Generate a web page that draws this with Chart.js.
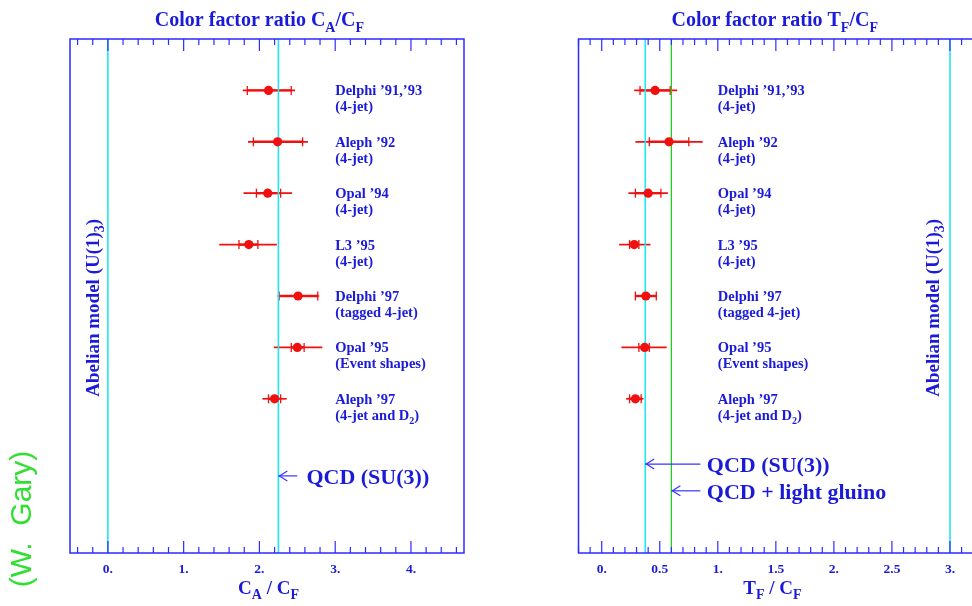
<!DOCTYPE html>
<html>
<head>
<meta charset="utf-8">
<script src="https://cdn.jsdelivr.net/npm/chart.js@4"></script>
<style>
html, body { margin: 0; padding: 0; background: #fff; overflow: hidden; width: 972px; height: 606px; }
#left { position: absolute; left: 0; top: 0; width: 500px; height: 606px; }
#right { position: absolute; left: 500px; top: 0; width: 480px; height: 606px; }
</style>
</head>
<body>
<canvas id="left" width="500" height="606"></canvas>
<canvas id="right" width="480" height="606"></canvas>
<script>
// measurements, top to bottom
const rows = [1, 2, 3, 4, 5, 6, 7];
const experiments = ['Delphi ’91,’93', 'Aleph ’92', 'Opal ’94', 'L3 ’95', 'Delphi ’97', 'Opal ’95', 'Aleph ’97'];
const methods = ['(4-jet)', '(4-jet)', '(4-jet)', '(4-jet)', '(tagged 4-jet)', '(Event shapes)', '(4-jet and D_2)'];

// C_A / C_F
const caValue    = [2.12, 2.24, 2.11, 1.86, 2.51, 2.50, 2.20];
const caStatLow  = [1.84, 1.92, 1.96, 1.73, 2.26, 2.42, 2.12];
const caStatHigh = [2.42, 2.57, 2.28, 1.98, 2.77, 2.59, 2.28];
const caTotLow   = [1.78, 1.85, 1.79, 1.47, 2.24, 2.19, 2.04];
const caTotHigh  = [2.47, 2.64, 2.43, 2.23, 2.79, 2.83, 2.36];
const caTicks = [0, 1, 2, 3, 4];
const caTickLabels = ['0.', '1.', '2.', '3.', '4.'];
const caRefLines = [0, 2.25];

// T_F / C_F
const tfValue    = [0.46, 0.58, 0.40, 0.28, 0.38, 0.37, 0.29];
const tfStatLow  = [0.33, 0.41, 0.29, 0.24, 0.29, 0.32, 0.24];
const tfStatHigh = [0.59, 0.75, 0.51, 0.32, 0.47, 0.41, 0.34];
const tfTotLow   = [0.28, 0.29, 0.23, 0.15, 0.29, 0.17, 0.21];
const tfTotHigh  = [0.65, 0.87, 0.57, 0.42, 0.47, 0.56, 0.36];
const tfTicks = [0, 0.5, 1, 1.5, 2, 2.5, 3];
const tfTickLabels = ['0.', '0.5', '1.', '1.5', '2.', '2.5', '3.'];
const tfRefLines = [0.375, 0.6, 3];

const RED = '#f01010';
const BLUE = '#1a1ad8';
const FRAME = '#2b2bff';
const CYAN = '#20e8f0';
const GREEN = '#20cc20';
const SERIF = '"Liberation Serif", "DejaVu Serif", serif';

// "C_A" -> [['C', false], ['A', true]]
function runs(s) {
  const out = [];
  let buf = '';
  for (let i = 0; i < s.length; i++) {
    if (s[i] === '_' && i + 1 < s.length) {
      if (buf) out.push([buf, false]);
      buf = '';
      out.push([s[i + 1], true]);
      i++;
    } else buf += s[i];
  }
  if (buf) out.push([buf, false]);
  return out;
}

function richText(ctx, s, x, y, size, align, color) {
  const parts = runs(s);
  const subSize = Math.round(size * 0.72);
  let w = 0;
  parts.forEach(([t, sub]) => {
    ctx.font = 'bold ' + (sub ? subSize : size) + 'px ' + SERIF;
    w += ctx.measureText(t).width;
  });
  let cx = align === 'center' ? x - w / 2 : x;
  ctx.fillStyle = color;
  ctx.textAlign = 'left';
  ctx.textBaseline = 'alphabetic';
  parts.forEach(([t, sub]) => {
    ctx.font = 'bold ' + (sub ? subSize : size) + 'px ' + SERIF;
    ctx.fillText(t, cx, sub ? y + size * 0.28 : y);
    cx += ctx.measureText(t).width;
  });
}

function seg(ctx, x0, y0, x1, y1) {
  ctx.beginPath(); ctx.moveTo(x0, y0); ctx.lineTo(x1, y1); ctx.stroke();
}

const decor = {
  id: 'decor',
  beforeDatasetsDraw(chart, args, o) {
    const { ctx } = chart;
    const xs = chart.scales.x, ys = chart.scales.y;
    ctx.save();
    ctx.strokeStyle = RED;
    o.value.forEach((v, i) => {
      const py = ys.getPixelForValue(rows[i]);
      const a = xs.getPixelForValue(o.totLow[i]), b = xs.getPixelForValue(o.totHigh[i]);
      const c = xs.getPixelForValue(o.statLow[i]), d = xs.getPixelForValue(o.statHigh[i]);
      ctx.lineWidth = 1.7; seg(ctx, a, py, b, py);
      ctx.lineWidth = 2.4; seg(ctx, c, py, d, py);
      ctx.lineWidth = 1.3;
      seg(ctx, c, py - 4.5, c, py + 4.5);
      seg(ctx, d, py - 4.5, d, py + 4.5);
    });
    ctx.restore();
  },
  afterDraw(chart, args, o) {
    const { ctx, chartArea: ca } = chart;
    const xs = chart.scales.x, ys = chart.scales.y;
    ctx.save();
    // frame
    ctx.strokeStyle = FRAME;
    ctx.lineWidth = 1.5;
    ctx.strokeRect(ca.left, ca.top, ca.right - ca.left, ca.bottom - ca.top);
    // inward ticks on top and bottom
    ctx.lineWidth = 1.2;
    const k0 = Math.ceil(xs.min / o.minor - 1e-6), k1 = Math.floor(xs.max / o.minor + 1e-6);
    for (let k = k0; k <= k1; k++) {
      const v = k * o.minor;
      const major = o.ticks.some(t => Math.abs(t - v) < 1e-6);
      const len = major ? 12 : 6;
      const px = xs.getPixelForValue(v);
      seg(ctx, px, ca.bottom, px, ca.bottom - len);
      seg(ctx, px, ca.top, px, ca.top + len);
    }
    // titles
    richText(ctx, o.title, xs.getPixelForValue(o.titleX), 26, 20, 'center', BLUE);
    richText(ctx, o.axisTitle, xs.getPixelForValue(o.axisTitleX), 594, 19, 'center', BLUE);
    // experiment labels
    experiments.forEach((name, i) => {
      const py = ys.getPixelForValue(rows[i]);
      const px = xs.getPixelForValue(o.labelX);
      richText(ctx, name, px, py + 5, 14.5, 'left', BLUE);
      richText(ctx, methods[i], px, py + 21, 14.5, 'left', BLUE);
    });
    // Abelian model label, rotated
    ctx.save();
    ctx.translate(xs.getPixelForValue(o.abelianX), ys.getPixelForValue(o.abelianY));
    ctx.rotate(-Math.PI / 2);
    richText(ctx, 'Abelian model (U(1)_3)', 0, 0, 19, 'center', BLUE);
    ctx.restore();
    // arrows to the theory lines
    ctx.strokeStyle = '#3535ff';
    ctx.lineWidth = 1.2;
    o.arrows.forEach(a => {
      const tip = xs.getPixelForValue(a.tip), tail = xs.getPixelForValue(a.tail);
      const py = ys.getPixelForValue(a.y);
      seg(ctx, tail, py, tip, py);
      ctx.beginPath();
      ctx.moveTo(tip + 9, py - 5); ctx.lineTo(tip + 1, py); ctx.lineTo(tip + 9, py + 5);
      ctx.stroke();
      richText(ctx, a.text, xs.getPixelForValue(a.textX), py + 8, 22, 'left', BLUE);
    });
    if (o.credit) {
      ctx.save();
      ctx.translate(31, 519);
      ctx.rotate(-Math.PI / 2);
      ctx.font = '30px "Liberation Sans", Arial, sans-serif';
      ctx.fillStyle = '#30e030';
      ctx.textAlign = 'center';
      ctx.textBaseline = 'alphabetic';
      ctx.fillText(o.credit, 0, 0);
      ctx.restore();
    }
    ctx.restore();
  }
};

function makePanel(id, p) {
  return new Chart(document.getElementById(id), {
    type: 'scatter',
    data: {
      datasets: [
        {
          data: p.value.map((v, i) => ({ x: v, y: rows[i] })),
          pointRadius: 4.6,
          pointBackgroundColor: RED,
          pointBorderWidth: 0,
          order: 0
        },
        ...p.refLines.map((v, j) => ({
          type: 'line',
          data: [{ x: v, y: 0 }, { x: v, y: 10 }],
          borderColor: p.refColors[j],
          borderWidth: p.refColors[j] === GREEN ? 1.3 : 1.6,
          pointRadius: 0,
          order: 1
        }))
      ]
    },
    options: {
      responsive: false,
      animation: false,
      events: [],
      layout: { padding: p.padding },
      scales: {
        x: {
          type: 'linear',
          min: p.min,
          max: p.max,
          grid: { display: false, drawTicks: false },
          border: { display: false },
          afterBuildTicks: s => { s.ticks = p.ticks.map(v => ({ value: v })); },
          afterFit: s => { s.height = 53; },
          ticks: {
            padding: 8,
            color: BLUE,
            font: { family: SERIF, size: 13.5, weight: 'bold' },
            callback: v => p.tickLabels[p.ticks.indexOf(v)]
          }
        },
        y: { type: 'linear', min: 0, max: 10, reverse: true, display: false }
      },
      plugins: {
        legend: { display: false },
        tooltip: { enabled: false },
        decor: p.decor
      }
    },
    plugins: [decor]
  });
}

makePanel('left', {
  value: caValue, min: -0.5, max: 4.7,
  ticks: caTicks, tickLabels: caTickLabels,
  refLines: caRefLines, refColors: [CYAN, CYAN],
  padding: { left: 70, right: 36, top: 39, bottom: 0 },
  decor: {
    value: caValue, statLow: caStatLow, statHigh: caStatHigh, totLow: caTotLow, totHigh: caTotHigh,
    ticks: caTicks, minor: 0.2,
    title: 'Color factor ratio C_A/C_F', titleX: 2.0,
    axisTitle: 'C_A / C_F', axisTitleX: 2.12,
    labelX: 3.0, abelianX: -0.12, abelianY: 5.23,
    arrows: [{ tip: 2.25, tail: 2.5, y: 8.5, text: 'QCD (SU(3))', textX: 2.62 }],
    credit: '(W.  Gary)'
  }
});

makePanel('right', {
  value: tfValue, min: -0.2, max: 3.2,
  ticks: tfTicks, tickLabels: tfTickLabels,
  refLines: tfRefLines, refColors: [CYAN, GREEN, CYAN],
  padding: { left: 78.5, right: 6.8, top: 39, bottom: 0 },
  decor: {
    value: tfValue, statLow: tfStatLow, statHigh: tfStatHigh, totLow: tfTotLow, totHigh: tfTotHigh,
    ticks: tfTicks, minor: 0.1,
    title: 'Color factor ratio T_F/C_F', titleX: 1.49,
    axisTitle: 'T_F / C_F', axisTitleX: 1.47,
    labelX: 1.0, abelianX: 2.905, abelianY: 5.23,
    arrows: [
      { tip: 0.375, tail: 0.85, y: 8.27, text: 'QCD (SU(3))', textX: 0.905 },
      { tip: 0.6, tail: 0.85, y: 8.79, text: 'QCD + light gluino', textX: 0.905 }
    ]
  }
});
</script>
</body>
</html>
